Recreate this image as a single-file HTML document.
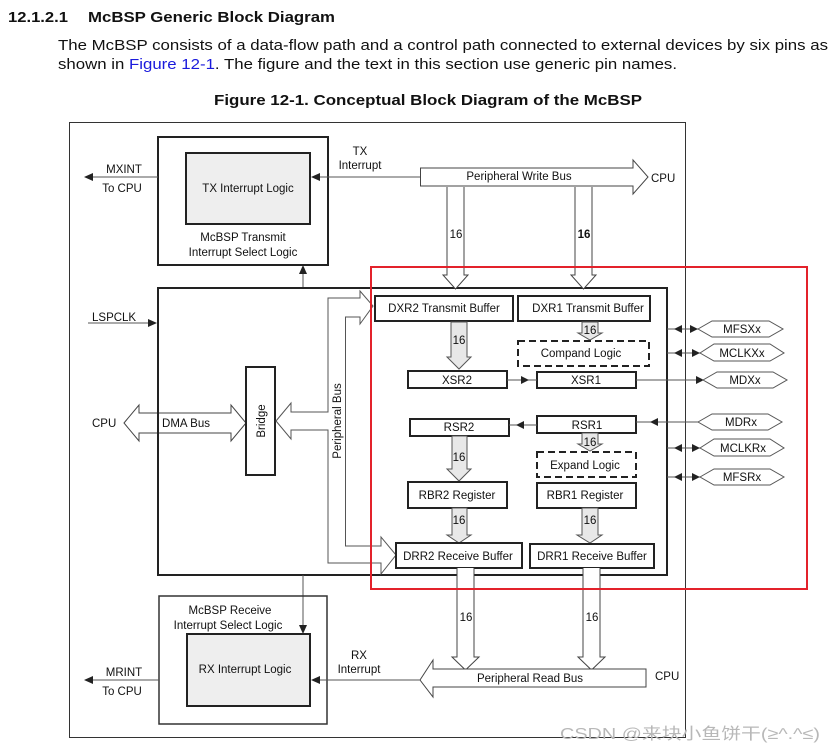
<!DOCTYPE html>
<html><head><meta charset="utf-8"><style>
html,body{margin:0;padding:0;background:#fff;}
svg{display:block;}
text{font-family:"Liberation Sans",Arial,sans-serif;fill:#111;}
</style></head><body>
<svg width="832" height="752" viewBox="0 0 832 752" xmlns="http://www.w3.org/2000/svg">
<text x="8" y="22" font-size="15" font-weight="bold" textLength="60" lengthAdjust="spacingAndGlyphs">12.1.2.1</text>
<text x="88" y="22" font-size="15" font-weight="bold" textLength="247" lengthAdjust="spacingAndGlyphs">McBSP Generic Block Diagram</text>
<text x="58" y="50" font-size="15" textLength="770" lengthAdjust="spacingAndGlyphs">The McBSP consists of a data-flow path and a control path connected to external devices by six pins as</text>
<text x="58" y="69" font-size="15" textLength="619" lengthAdjust="spacingAndGlyphs">shown in <tspan fill="#1a1adc">Figure 12-1</tspan>. The figure and the text in this section use generic pin names.</text>
<text x="214" y="105" font-size="15" font-weight="bold" textLength="428" lengthAdjust="spacingAndGlyphs">Figure 12-1.  Conceptual Block Diagram of the McBSP</text>

<rect x="69.5" y="122.5" width="616" height="615" fill="none" stroke="#333" stroke-width="1"/>

<g font-size="11.5">
<rect x="158" y="137" width="170" height="128" fill="none" stroke="#222" stroke-width="2"/>
<rect x="186" y="153" width="124" height="71" fill="#eeeeee" stroke="#222" stroke-width="2"/>
<text x="248" y="192" text-anchor="middle">TX Interrupt Logic</text>
<text x="243" y="241" text-anchor="middle">McBSP Transmit</text>
<text x="243" y="256" text-anchor="middle">Interrupt Select Logic</text>
<line x1="158" y1="177" x2="90" y2="177" stroke="#555"/><path d="M84 177 L93 173 L93 181Z" fill="#222"/>
<text x="124" y="173" text-anchor="middle">MXINT</text>
<text x="122" y="192" text-anchor="middle">To CPU</text>
<line x1="420" y1="177" x2="318" y2="177" stroke="#555"/><path d="M311 177 L320 173 L320 181Z" fill="#222"/>
<text x="360" y="155" text-anchor="middle">TX</text>
<text x="360" y="169" text-anchor="middle">Interrupt</text>
<path d="M420.5 168 L633 168 L633 160 L648 177 L633 194 L633 186 L420.5 186Z" fill="#fff" stroke="#444"/>
<text x="519" y="180" text-anchor="middle">Peripheral Write Bus</text>
<text x="651" y="182">CPU</text>
<line x1="303" y1="288" x2="303" y2="273" stroke="#555"/><path d="M303 265 L299 274 L307 274Z" fill="#222"/>

<rect x="158" y="288" width="509" height="287" fill="none" stroke="#222" stroke-width="2"/>
<line x1="88" y1="323" x2="150" y2="323" stroke="#555"/><path d="M157 323 L148 319 L148 327Z" fill="#222"/>
<text x="92" y="321">LSPCLK</text>

<path d="M124 423 L139 405 L139 413 L231 413 L231 405 L246 423 L231 441 L231 433 L139 433 L139 441Z" fill="#fff" stroke="#444"/>
<line x1="158" y1="405" x2="158" y2="441" stroke="#222" stroke-width="2"/>
<text x="92" y="427">CPU</text>
<text x="186" y="427" text-anchor="middle">DMA Bus</text>
<rect x="246" y="367" width="29" height="108" fill="#fff" stroke="#222" stroke-width="2"/>
<text transform="translate(265,421) rotate(-90)" text-anchor="middle">Bridge</text>

<path d="M276 421 L291 403 L291 412 L328 412 L328 298 L360 298 L360 291 L373 306 L360 324 L360 317 L345.5 317 L345.5 546 L381 546 L381 537 L396 555 L381 574 L381 563 L328 563 L328 430 L291 430 L291 439Z" fill="#fff" stroke="#555"/>
<text transform="translate(341,421) rotate(-90)" text-anchor="middle">Peripheral Bus</text>

<path d="M447 187 L447 275 L443 275 L455.5 289 L468 275 L464 275 L464 187" fill="#fff" stroke="#444"/>
<text x="456" y="238" text-anchor="middle">16</text>
<path d="M575 187 L575 275 L571 275 L583.5 289 L596 275 L592 275 L592 187" fill="#fff" stroke="#444"/>
<text x="584" y="238" text-anchor="middle" font-weight="bold">16</text>

<rect x="375" y="296" width="138" height="25" fill="#fff" stroke="#222" stroke-width="2"/>
<text x="444" y="312" text-anchor="middle">DXR2 Transmit Buffer</text>
<rect x="518" y="296" width="132" height="25" fill="#fff" stroke="#222" stroke-width="2"/>
<text x="588" y="312" text-anchor="middle">DXR1 Transmit Buffer</text>
<path d="M451 322 L451 357 L447 357 L459 369 L471 357 L467 357 L467 322Z" fill="#e8e8e8" stroke="#555"/>
<text x="459" y="344" text-anchor="middle">16</text>
<path d="M582 322 L582 333 L578 333 L590 340 L602 333 L598 333 L598 322Z" fill="#e8e8e8" stroke="#555"/>
<text x="590" y="334" text-anchor="middle">16</text>
<rect x="518" y="341" width="131" height="25" fill="#fff" stroke="#222" stroke-width="2" stroke-dasharray="7,4"/>
<text x="581" y="357" text-anchor="middle">Compand Logic</text>
<rect x="408" y="371" width="99" height="17" fill="#fff" stroke="#222" stroke-width="2"/>
<text x="457" y="384" text-anchor="middle">XSR2</text>
<rect x="537" y="372" width="99" height="16" fill="#fff" stroke="#222" stroke-width="2"/>
<text x="586" y="384" text-anchor="middle">XSR1</text>
<line x1="507" y1="380" x2="537" y2="380" stroke="#555"/><path d="M529 380 L521 376 L521 384Z" fill="#222"/>
<line x1="636" y1="380" x2="700" y2="380" stroke="#555"/><path d="M704 380 L696 376 L696 384Z" fill="#222"/>

<rect x="537" y="416" width="99" height="17" fill="#fff" stroke="#222" stroke-width="2"/>
<text x="587" y="429" text-anchor="middle">RSR1</text>
<rect x="410" y="419" width="99" height="17" fill="#fff" stroke="#222" stroke-width="2"/>
<text x="459" y="431" text-anchor="middle">RSR2</text>
<line x1="509" y1="425" x2="537" y2="425" stroke="#555"/><path d="M516 425 L524 421 L524 429Z" fill="#222"/>
<line x1="636" y1="422" x2="698" y2="422" stroke="#555"/><path d="M650 422 L658 418 L658 426Z" fill="#222"/>
<path d="M582 433 L582 444 L578 444 L590 451 L602 444 L598 444 L598 433Z" fill="#e8e8e8" stroke="#555"/>
<text x="590" y="446" text-anchor="middle">16</text>
<rect x="537" y="452" width="99" height="25" fill="#fff" stroke="#222" stroke-width="2" stroke-dasharray="7,4"/>
<text x="585" y="469" text-anchor="middle">Expand Logic</text>
<path d="M452 436 L452 469 L447 469 L459 481 L471 469 L467 469 L467 436Z" fill="#e8e8e8" stroke="#555"/>
<text x="459" y="461" text-anchor="middle">16</text>
<rect x="408" y="482" width="99" height="26" fill="#fff" stroke="#222" stroke-width="2"/>
<text x="457" y="499" text-anchor="middle">RBR2 Register</text>
<rect x="537" y="483" width="99" height="25" fill="#fff" stroke="#222" stroke-width="2"/>
<text x="585" y="499" text-anchor="middle">RBR1 Register</text>
<path d="M452 508 L452 535 L447 535 L459 543 L471 535 L467 535 L467 508Z" fill="#e8e8e8" stroke="#555"/>
<text x="459" y="524" text-anchor="middle">16</text>
<path d="M582 508 L582 535 L577 535 L590 543 L602 535 L598 535 L598 508Z" fill="#e8e8e8" stroke="#555"/>
<text x="590" y="524" text-anchor="middle">16</text>
<rect x="396" y="543" width="126" height="25" fill="#fff" stroke="#222" stroke-width="2"/>
<text x="458" y="560" text-anchor="middle">DRR2 Receive Buffer</text>
<rect x="530" y="544" width="124" height="24" fill="#fff" stroke="#222" stroke-width="2"/>
<text x="592" y="560" text-anchor="middle">DRR1 Receive Buffer</text>

<g stroke="#555" fill="#fff">
<path d="M698 329 L712 321 L769 321 L783 329 L769 337 L712 337Z"/>
<path d="M700 353 L714 344 L770 344 L784 353 L770 361 L714 361Z"/>
<path d="M703 380 L717 372 L773 372 L787 380 L773 388 L717 388Z"/>
<path d="M698 422 L712 414 L768 414 L782 422 L768 430 L712 430Z"/>
<path d="M700 448 L714 439 L770 439 L784 448 L770 456 L714 456Z"/>
<path d="M700 477 L714 469 L770 469 L784 477 L770 485 L714 485Z"/>
<line x1="667" y1="329" x2="698" y2="329"/>
<line x1="667" y1="353" x2="700" y2="353"/>
<line x1="667" y1="448" x2="700" y2="448"/>
<line x1="667" y1="477" x2="700" y2="477"/>
</g>
<g fill="#222">
<path d="M674 329 L682 325 L682 333Z"/><path d="M698 329 L690 325 L690 333Z"/>
<path d="M674 353 L682 349 L682 357Z"/><path d="M700 353 L692 349 L692 357Z"/>
<path d="M674 448 L682 444 L682 452Z"/><path d="M700 448 L692 444 L692 452Z"/>
<path d="M674 477 L682 473 L682 481Z"/><path d="M700 477 L692 473 L692 481Z"/>
</g>
<text x="742" y="333" text-anchor="middle">MFSXx</text>
<text x="742" y="357" text-anchor="middle">MCLKXx</text>
<text x="745" y="384" text-anchor="middle">MDXx</text>
<text x="741" y="426" text-anchor="middle">MDRx</text>
<text x="743" y="452" text-anchor="middle">MCLKRx</text>
<text x="742" y="481" text-anchor="middle">MFSRx</text>

<path d="M457 568 L457 657 L452 657 L465.5 670 L479 657 L474 657 L474 568" fill="#fff" stroke="#444"/>
<text x="466" y="621" text-anchor="middle">16</text>
<path d="M583 568 L583 657 L578 657 L591.5 670 L605 657 L600 657 L600 568" fill="#fff" stroke="#444"/>
<text x="592" y="621" text-anchor="middle">16</text>
<path d="M420 680 L433 660 L433 669 L646 669 L646 687 L433 687 L433 697Z" fill="#fff" stroke="#444"/>
<text x="530" y="682" text-anchor="middle">Peripheral Read Bus</text>
<text x="655" y="680">CPU</text>

<line x1="303" y1="575" x2="303" y2="626" stroke="#555"/><path d="M303 634 L299 625 L307 625Z" fill="#222"/>
<rect x="159" y="596" width="168" height="128" fill="none" stroke="#333" stroke-width="1.5"/>
<text x="230" y="614" text-anchor="middle">McBSP Receive</text>
<text x="228" y="629" text-anchor="middle">Interrupt Select Logic</text>
<rect x="187" y="634" width="123" height="72" fill="#eeeeee" stroke="#222" stroke-width="2"/>
<text x="245" y="673" text-anchor="middle">RX Interrupt Logic</text>
<line x1="159" y1="680" x2="90" y2="680" stroke="#555"/><path d="M84 680 L93 676 L93 684Z" fill="#222"/>
<text x="124" y="676" text-anchor="middle">MRINT</text>
<text x="122" y="695" text-anchor="middle">To CPU</text>
<line x1="420" y1="680" x2="318" y2="680" stroke="#555"/><path d="M311 680 L320 676 L320 684Z" fill="#222"/>
<text x="359" y="659" text-anchor="middle">RX</text>
<text x="359" y="673" text-anchor="middle">Interrupt</text>
</g>

<rect x="371" y="267" width="436" height="322" fill="none" stroke="#e3222b" stroke-width="2"/>

<text x="560" y="739" font-size="16" textLength="260" lengthAdjust="spacingAndGlyphs" style="fill:#b8b8b8;font-family:'Liberation Sans','Noto Sans CJK SC',sans-serif">CSDN @来块小鱼饼干(≥^.^≤)</text>
</svg>
</body></html>
